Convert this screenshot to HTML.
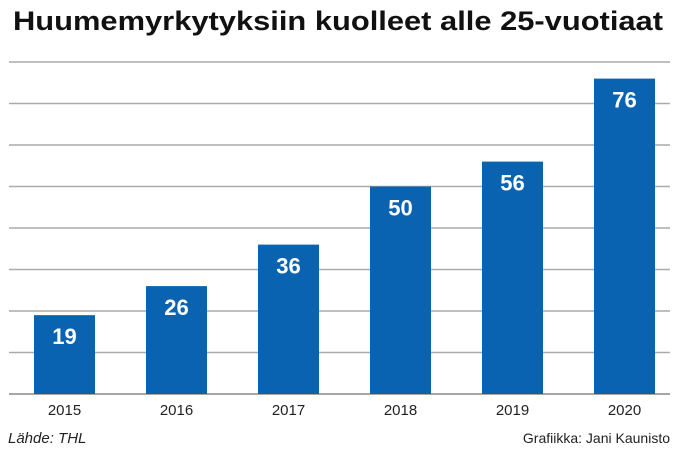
<!DOCTYPE html>
<html><head><meta charset="utf-8"><style>
body{margin:0;background:#fff;width:676px;height:451px;overflow:hidden;font-family:"Liberation Sans",sans-serif}
</style></head><body>
<svg id="c" width="676" height="451">
<text x="338" y="30" text-anchor="middle" font-size="27" font-weight="bold" fill="#111" textLength="650" lengthAdjust="spacingAndGlyphs">Huumemyrkytyksiin kuolleet alle 25-vuotiaat</text>
<g id="grid"></g><g id="bars"></g>
<text x="8" y="443" font-size="15" font-style="italic" fill="#222">Lähde: THL</text>
<text x="670" y="443" text-anchor="end" font-size="14" fill="#222">Grafiikka: Jani Kaunisto</text>
</svg>
<script>
const categories=["2015","2016","2017","2018","2019","2020"];
const values=[19,26,36,50,56,76];
const yTicks=[0,10,20,30,40,50,60,70,80];
const ns="http://www.w3.org/2000/svg";
const y0=394,pxPer=4.15,x0=8.5,band=112,bw=61;
const y=v=>y0-v*pxPer;
const x=i=>x0+i*band+(band-bw)/2;
const g=document.getElementById('grid'),b=document.getElementById('bars');
yTicks.forEach(t=>{const l=document.createElementNS(ns,'line');


l.setAttribute('x1',9);l.setAttribute('x2',670);l.setAttribute('y1',y(t));l.setAttribute('y2',y(t));
l.setAttribute('stroke',t===0?'#888':'#aaa');l.setAttribute('stroke-width',1.5);g.appendChild(l);});
values.forEach((v,i)=>{const r=document.createElementNS(ns,'rect');


r.setAttribute('x',x(i));r.setAttribute('y',y(v));r.setAttribute('width',bw);r.setAttribute('height',y0-y(v));r.setAttribute('fill','#0a63b0');b.appendChild(r);
const t=document.createElementNS(ns,'text');


t.setAttribute('x',x(i)+bw/2);t.setAttribute('y',y(v)+29);t.setAttribute('text-anchor','middle');t.setAttribute('font-size','22');t.setAttribute('font-weight','bold');t.setAttribute('fill','#fff');t.textContent=v;b.appendChild(t);
const c=document.createElementNS(ns,'text');


c.setAttribute('x',x(i)+bw/2);c.setAttribute('y',415);c.setAttribute('text-anchor','middle');c.setAttribute('font-size','15');c.setAttribute('fill','#222');c.textContent=categories[i];b.appendChild(c);});
</script>
</body></html>
